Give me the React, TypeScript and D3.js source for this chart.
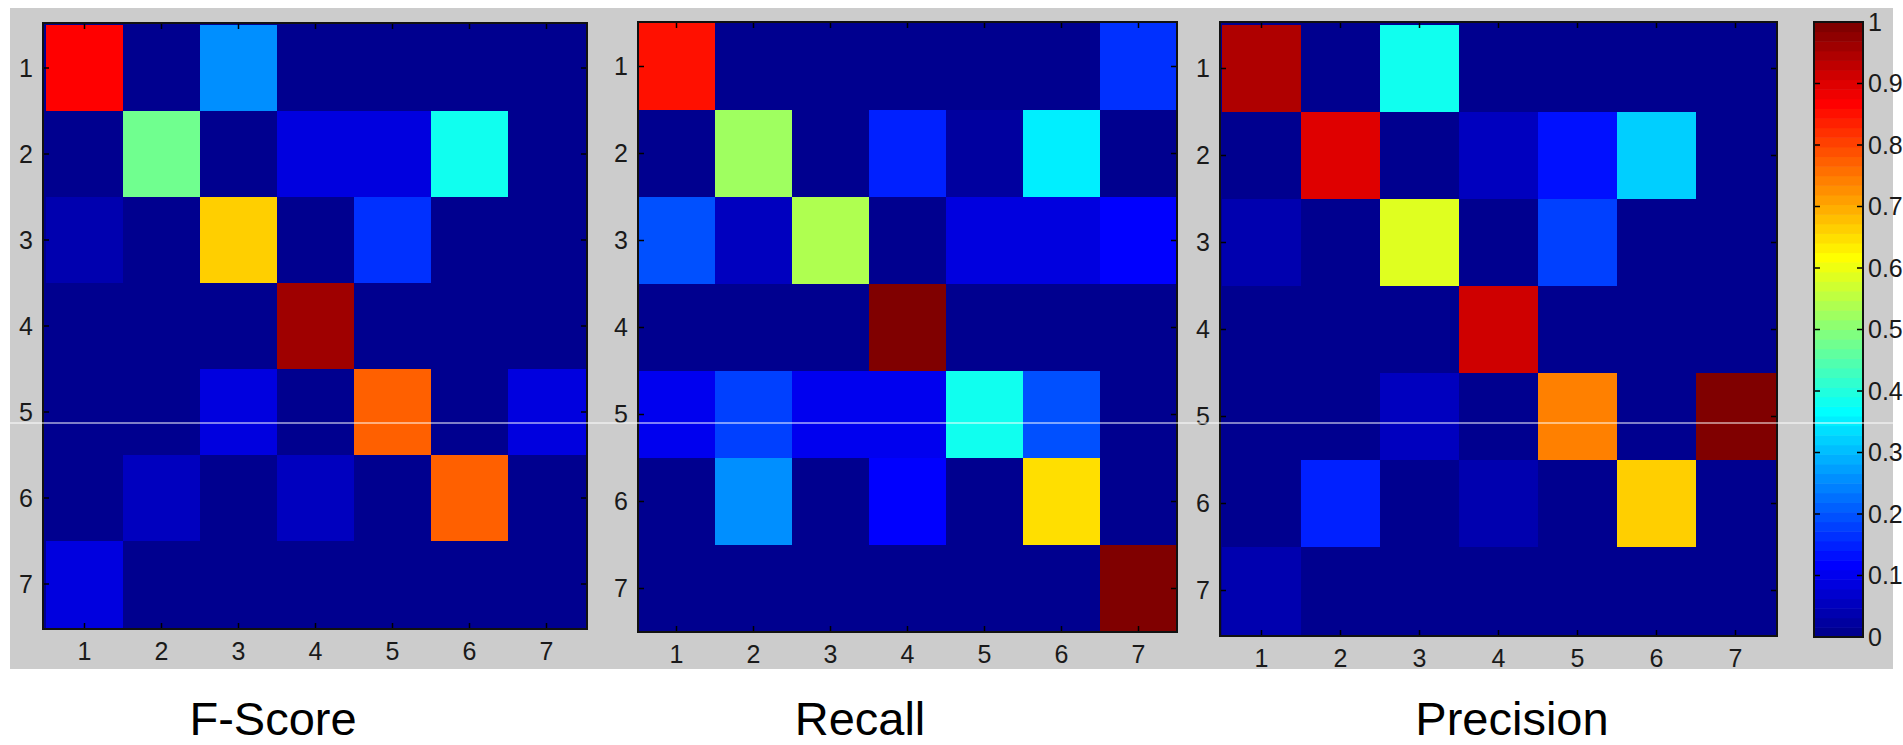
import React from 'react';
import * as d3 from 'd3';

// class labels shared by every matrix
const classes = [1, 2, 3, 4, 5, 6, 7];

// rows = true class, cols = predicted class
const fScore = [
  [0.87, 0, 0.26, 0, 0, 0, 0],
  [0, 0.475, 0, 0.08, 0.09, 0.39, 0],
  [0.04, 0, 0.665, 0, 0.16, 0, 0],
  [0, 0, 0, 0.96, 0, 0, 0],
  [0, 0, 0.08, 0, 0.775, 0.01, 0.09],
  [0, 0.06, 0, 0.06, 0, 0.78, 0],
  [0.08, 0, 0, 0, 0, 0, 0],
];

const recall = [
  [0.845, 0, 0, 0, 0, 0, 0.165],
  [0, 0.52, 0, 0.145, 0.03, 0.345, 0],
  [0.2, 0.05, 0.545, 0, 0.09, 0.09, 0.11],
  [0, 0, 0, 1, 0, 0, 0],
  [0.1, 0.185, 0.095, 0.095, 0.375, 0.19, 0],
  [0, 0.2525, 0, 0.11, 0, 0.645, 0],
  [0, 0, 0, 0, 0, 0, 1],
];

const precision = [
  [0.945, 0, 0.375, 0, 0, 0, 0],
  [0, 0.895, 0, 0.055, 0.14, 0.3125, 0],
  [0.04, 0, 0.59, 0, 0.175, 0, 0],
  [0, 0, 0, 0.91, 0, 0, 0],
  [0, 0, 0.055, 0, 0.7375, 0, 1],
  [0, 0.155, 0, 0.04, 0, 0.665, 0],
  [0.045, 0, 0, 0, 0, 0, 0],
];

const titles = ['F-Score', 'Recall', 'Precision'];
const colorbarTicks = [0, 0.1, 0.2, 0.3, 0.4, 0.5, 0.6, 0.7, 0.8, 0.9, 1];

// MATLAB jet(64)
const N = 64;
const clamp = (v: number) => Math.max(0, Math.min(1, v));
const jetAt = (x: number) => {
  const r = clamp(1.5 - Math.abs(4 * x - 3));
  const g = clamp(1.5 - Math.abs(4 * x - 2));
  const b = clamp(1.5 - Math.abs(4 * x - 1));
  return d3.rgb(r * 255, g * 255, b * 255).formatHex();
};
const jetIndex = (v: number) => Math.min(N - 1, Math.max(0, Math.floor(v * N)));
const jet = (v: number) => jetAt((jetIndex(v) + 1) / N);

const font = 'Arial, "Liberation Sans", sans-serif';
const tickFont = 25;
const tickLen = 6;

const panels = [
  { data: fScore, x0: 43, x1: 587, y0: 23, y1: 629, title: titles[0], tx: 273 },
  { data: recall, x0: 638, x1: 1177, y0: 22, y1: 632, title: titles[1], tx: 860 },
  { data: precision, x0: 1220, x1: 1777, y0: 22, y1: 636, title: titles[2], tx: 1512 },
];

function Matrix({ p }: { p: typeof panels[number] }) {
  const x = d3.scaleBand<number>().domain(classes).range([p.x0, p.x1]).round(true);
  const y = d3.scaleBand<number>().domain(classes).range([p.y0, p.y1]).round(true);
  const bw = x.bandwidth();
  const bh = y.bandwidth();
  return (
    <g>
      <rect x={p.x0} y={p.y0} width={p.x1 - p.x0} height={p.y1 - p.y0} fill={jet(0)} />
      {p.data.map((row, i) =>
        row.map((v, j) => (
          <rect
            key={`${i}-${j}`}
            x={x(classes[j])!}
            y={y(classes[i])!}
            width={j === classes.length - 1 ? p.x1 - x(classes[j])! : bw}
            height={i === classes.length - 1 ? p.y1 - y(classes[i])! : bh}
            fill={jet(v)}
            shapeRendering="crispEdges"
          />
        ))
      )}
      {classes.map((c) => {
        const cx = x(c)! + bw / 2;
        const cy = y(c)! + bh / 2;
        return (
          <g key={c} stroke="#000" strokeWidth={1.5}>
            <line x1={cx} x2={cx} y1={p.y1} y2={p.y1 - tickLen} />
            <line x1={cx} x2={cx} y1={p.y0} y2={p.y0 + tickLen} />
            <line x1={p.x0} x2={p.x0 + tickLen} y1={cy} y2={cy} />
            <line x1={p.x1} x2={p.x1 - tickLen} y1={cy} y2={cy} />
          </g>
        );
      })}
      <rect x={p.x0} y={p.y0} width={p.x1 - p.x0} height={p.y1 - p.y0} fill="none" stroke="#111" strokeWidth={2} />
      {classes.map((c) => (
        <text key={'x' + c} x={x(c)! + bw / 2} y={p.y1 + 31} textAnchor="middle" fontSize={tickFont} fontFamily={font} fill="#1a1a1a">
          {c}
        </text>
      ))}
      {classes.map((c) => (
        <text key={'y' + c} x={p.x0 - 10} y={y(c)! + bh / 2} dy="0.35em" textAnchor="end" fontSize={tickFont} fontFamily={font} fill="#1a1a1a">
          {c}
        </text>
      ))}
      <text x={p.tx} y={735} textAnchor="middle" fontSize={47} fontFamily={font} fill="#000">
        {p.title}
      </text>
    </g>
  );
}

function Colorbar() {
  const x0 = 1814;
  const x1 = 1863;
  const cy = d3.scaleLinear().domain([0, 1]).range([637, 22]);
  const bands = d3.range(N);
  return (
    <g>
      {bands.map((i) => (
        <rect
          key={i}
          x={x0}
          y={cy((i + 1) / N)}
          width={x1 - x0}
          height={cy(i / N) - cy((i + 1) / N) + 0.5}
          fill={jetAt((i + 1) / N)}
        />
      ))}
      {colorbarTicks.map((t) => (
        <g key={t}>
          {t > 0 && t < 1 && (
            <g stroke="#000" strokeWidth={1.5}>
              <line x1={x0} x2={x0 + tickLen} y1={cy(t)} y2={cy(t)} />
              <line x1={x1} x2={x1 - tickLen} y1={cy(t)} y2={cy(t)} />
            </g>
          )}
          <text x={x1 + 5} y={cy(t)} dy="0.35em" fontSize={tickFont} fontFamily={font} fill="#1a1a1a">
            {d3.format('~g')(t)}
          </text>
        </g>
      ))}
      <rect x={x0} y={22} width={x1 - x0} height={615} fill="none" stroke="#111" strokeWidth={2} />
    </g>
  );
}

export default function App() {
  return (
    <svg width={1903} height={745} style={{ position: 'absolute', left: 0, top: 0, background: '#fff' }}>
      <rect x={10} y={8} width={1883} height={661} fill="#cccccc" />
      {panels.map((p) => (
        <Matrix key={p.title} p={p} />
      ))}
      <Colorbar />
      <line x1={0} x2={1903} y1={423} y2={423} stroke="#fff" strokeWidth={1} />
    </svg>
  );
}
